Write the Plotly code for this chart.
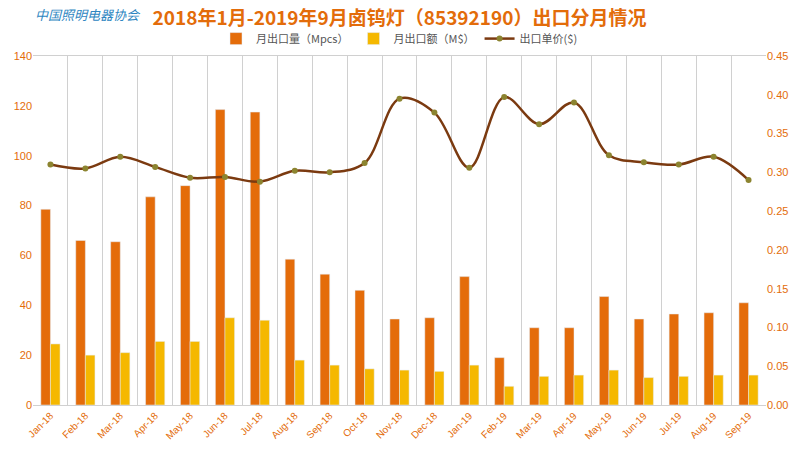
import plotly.graph_objects as go

months = ["Jan-18","Feb-18","Mar-18","Apr-18","May-18","Jun-18","Jul-18","Aug-18","Sep-18","Oct-18","Nov-18","Dec-18",
          "Jan-19","Feb-19","Mar-19","Apr-19","May-19","Jun-19","Jul-19","Aug-19","Sep-19"]
qty = [78.5,66,65.5,83.5,88,118.5,117.5,58.5,52.5,46,34.5,35,51.5,19,31,31,43.5,34.5,36.5,37,41]
amt = [24.5,20,21,25.5,25.5,35,34,18,16,14.5,14,13.5,16,7.5,11.5,12,14,11,11.5,12,12]
price = [0.31,0.305,0.32,0.307,0.293,0.294,0.288,0.302,0.30,0.312,0.395,0.377,0.306,0.397,0.362,0.39,0.322,0.313,0.31,0.32,0.29]

orange = "#E36C0A"
fig = go.Figure()
fig.add_bar(x=months, y=qty, name="月出口量（Mpcs）", marker_color="#E46C0A")
fig.add_bar(x=months, y=amt, name="月出口额（M$）", marker_color="#F5B800")
fig.add_scatter(x=months, y=price, name="出口单价($)", yaxis="y2", mode="lines+markers",
                line=dict(color="#7B3A10", width=2.5, shape="spline"),
                marker=dict(color="#8C8430", size=6))
tickfont = dict(color=orange, size=11, family="Liberation Sans")
fig.update_layout(
    width=800, height=454, paper_bgcolor="white", plot_bgcolor="white",
    margin=dict(l=33, r=34, t=56, b=49, autoexpand=False),
    barmode="group", bargap=0.45, bargroupgap=0,
    font=dict(family="Noto Sans CJK SC"),
    title=dict(text="<b>2018年1月-2019年9月卤钨灯（85392190）出口分月情况</b>", x=0.5, xanchor="center",
               xref="paper", y=0.975, yanchor="top", font=dict(size=19, color=orange)),
    legend=dict(orientation="h", x=0.5, xanchor="center", yref="container", y=0.915, yanchor="middle",
                font=dict(size=11, color="#555555"), traceorder="normal", itemwidth=30),
    xaxis=dict(range=[-0.5, 20.5], showgrid=True, gridcolor="#D0D0D0", tickangle=-45,
               tickfont=dict(color=orange, size=10, family="Liberation Sans"),
               showline=True, linecolor="#D0D0D0", mirror=True, ticks="", tickson="boundaries", automargin=False),
    yaxis=dict(range=[0,140], dtick=20, showgrid=False, tickfont=tickfont, zeroline=False, automargin=False),
    yaxis2=dict(range=[0,0.45], dtick=0.05, tickformat=".2f", overlaying="y", side="right",
                showgrid=False, tickfont=tickfont, zeroline=False, automargin=False),
)
fig.add_annotation(text="<i>中国照明电器协会</i>", xref="paper", yref="paper", x=0.0, y=1.12,
                   xanchor="left", yanchor="middle", showarrow=False,
                   font=dict(size=13, color="#2E86C1", family="Noto Sans CJK SC"))
fig.write_html("out.html", config={"displayModeBar": False})
with open("out.html", encoding="utf-8") as f:
    html = f.read()
html = html.replace("<head>", "<head><style>html,body{margin:0;padding:0;overflow:hidden}</style>", 1)
with open("out.html", "w", encoding="utf-8") as f:
    f.write(html)
